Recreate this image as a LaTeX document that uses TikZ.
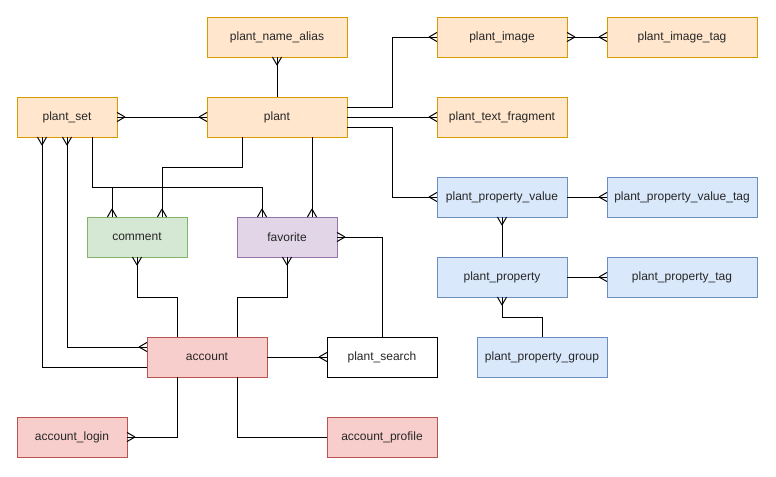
\documentclass[tikz,border=0pt]{standalone}
\usepackage{fontspec}
\setmainfont{Liberation Sans}
\usetikzlibrary{calc}
\definecolor{orF}{HTML}{FFE6CC}\definecolor{orD}{HTML}{D79B00}
\definecolor{grF}{HTML}{D5E8D4}\definecolor{grD}{HTML}{82B366}
\definecolor{puF}{HTML}{E1D5E7}\definecolor{puD}{HTML}{9673A6}
\definecolor{blF}{HTML}{DAE8FC}\definecolor{blD}{HTML}{6C8EBF}
\definecolor{reF}{HTML}{F8CECC}\definecolor{reD}{HTML}{B85450}
\pgfdeclarearrow{
  name = crow,
  setup code = {
    \pgfarrowssettipend{0pt}
    \pgfarrowssetlineend{0pt}
    \pgfarrowssetbackend{-6pt}
    \pgfarrowssetvisualbackend{-6pt}
    \pgfarrowshullpoint{0pt}{3.4pt}
    \pgfarrowshullpoint{0pt}{-3.4pt}
    \pgfarrowshullpoint{-6pt}{0pt}
  },
  drawing code = {
    \pgfpathmoveto{\pgfpoint{-6pt}{0pt}}
    \pgfpathlineto{\pgfpoint{0pt}{3.4pt}}
    \pgfpathmoveto{\pgfpoint{-6pt}{0pt}}
    \pgfpathlineto{\pgfpoint{0pt}{-3.4pt}}
    \pgfusepathqstroke
  }
}
\tikzset{
  ent/.style={draw, line width=0.75pt, inner sep=0pt, outer sep=0pt,
    minimum height=30pt, font=\fontsize{9}{11}\selectfont, text=black!85},
  orange/.style={ent, fill=orF, draw=orD},
  green/.style={ent, fill=grF, draw=grD},
  purple/.style={ent, fill=puF, draw=puD},
  blue/.style={ent, fill=blF, draw=blD},
  red/.style={ent, fill=reF, draw=reD},
  plain/.style={ent, fill=white, draw=black},
  w100/.style={minimum width=75pt}, w110/.style={minimum width=82.5pt},
  w120/.style={minimum width=90pt}, w130/.style={minimum width=97.5pt},
  w140/.style={minimum width=105pt}, w150/.style={minimum width=112.5pt},
  conn/.style={draw=black, line width=0.75pt}
}
\begin{document}
\begin{tikzpicture}[x=0.75pt, y=-0.75pt]
\useasboundingbox (0,0) rectangle (776,476);
% nodes
\node[orange,w140] (pna) at (277,37) {plant\_name\_alias};
\node[orange,w130] (pimg) at (502,37) {plant\_image};
\node[orange,w150] (pimgt) at (682,37) {plant\_image\_tag};
\node[orange,w100] (pset) at (67,117) {plant\_set};
\node[orange,w140] (plant) at (277,117) {plant};
\node[orange,w130] (ptf) at (502,117) {plant\_text\_fragment};
\node[green,w100] (comment) at (137,237) {comment};
\node[purple,w100] (fav) at (287,237) {favorite};
\node[blue,w130] (ppv) at (502,197) {plant\_property\_value};
\node[blue,w150] (ppvt) at (682,197) {plant\_property\_value\_tag};
\node[blue,w130] (pp) at (502,277) {plant\_property};
\node[blue,w150] (ppt) at (682,277) {plant\_property\_tag};
\node[blue,w130] (ppg) at (542,357) {plant\_property\_group};
\node[red,w120] (acc) at (207,357) {account};
\node[plain,w110] (psearch) at (382,357) {plant\_search};
\node[red,w110] (alogin) at (72,437) {account\_login};
\node[red,w110] (aprof) at (382,437) {account\_profile};
% connectors
\draw[conn, crow-] (pna.south) -- (plant.north);
\draw[conn, -crow] ($(plant.east)+(0,-10)$) -- ++(45,0) |- (pimg.west);
\draw[conn, -crow] (plant.east) -- (ptf.west);
\draw[conn, -crow] ($(plant.east)+(0,10)$) -- ++(45,0) |- (ppv.west);
\draw[conn, crow-crow] (pimg.east) -- (pimgt.west);
\draw[conn, crow-crow] (pset.east) -- (plant.west);
\draw[conn, -crow] ($(plant.south)+(-35,0)$) -- ++(0,30) -| ($(comment.north)+(25,0)$);
\draw[conn, -crow] ($(plant.south)+(35,0)$) -- ($(fav.north)+(25,0)$);
\draw[conn, -crow] ($(pset.south)+(25,0)$) -- ++(0,50) -| ($(comment.north)+(-25,0)$);
\draw[conn, -crow] ($(pset.south)+(25,0)$) -- ++(0,50) -| ($(fav.north)+(-25,0)$);
\draw[conn, crow-] ($(pset.south)+(-25,0)$) |- ($(acc.west)+(0,10)$);
\draw[conn, crow-crow] (pset.south) |- ($(acc.west)+(0,-10)$);
\draw[conn, crow-] (comment.south) -- ++(0,40) -| ($(acc.north)+(-30,0)$);
\draw[conn, crow-] (fav.south) -- ++(0,40) -| ($(acc.north)+(30,0)$);
\draw[conn, -crow] (psearch.north) |- (fav.east);
\draw[conn, -crow] (acc.east) -- (psearch.west);
\draw[conn, -crow] ($(acc.south)+(-30,0)$) |- (alogin.east);
\draw[conn] ($(acc.south)+(30,0)$) |- (aprof.west);
\draw[conn, -crow] (ppv.east) -- (ppvt.west);
\draw[conn, crow-] (ppv.south) -- (pp.north);
\draw[conn, -crow] (pp.east) -- (ppt.west);
\draw[conn, crow-] (pp.south) -- ++(0,20) -| (ppg.north);
\end{tikzpicture}
\end{document}
